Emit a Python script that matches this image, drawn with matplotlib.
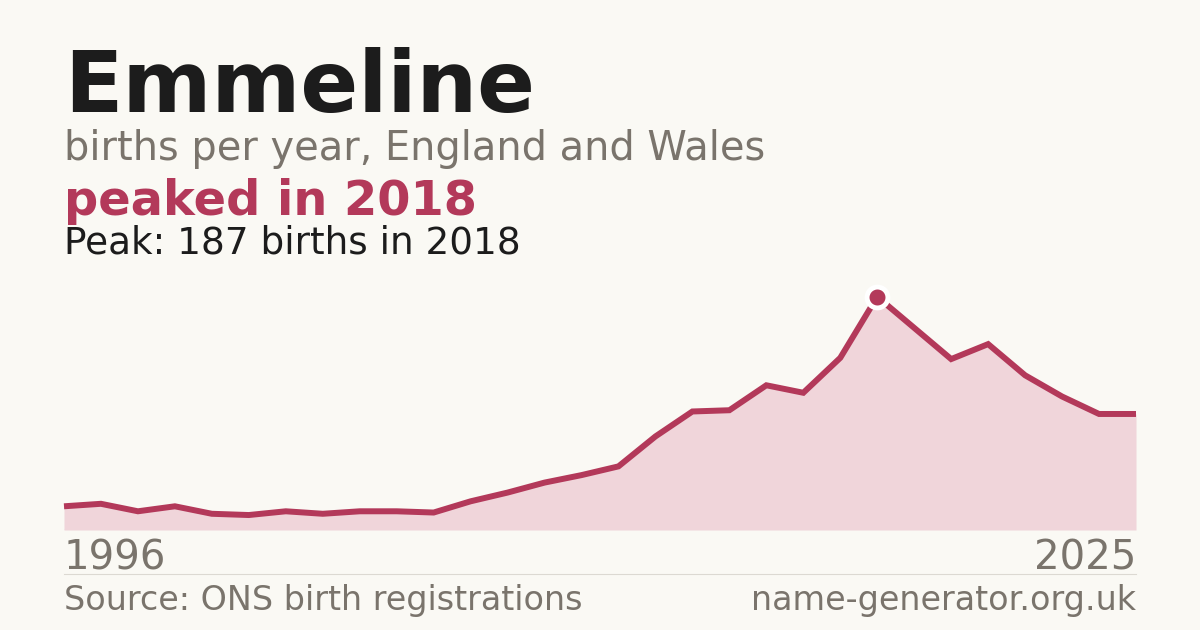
import matplotlib
matplotlib.use("Agg")
import matplotlib.pyplot as plt
from matplotlib.font_manager import FontProperties
import os
import numpy as np

years = list(range(1996, 2026))
births = [19, 21, 15, 19, 13, 12, 15, 13, 15, 15, 14, 23, 30, 38, 44, 51,
          75, 95, 96, 116, 110, 138, 187, 162, 137, 149, 124, 107, 93, 93]
peak_year = 2018
peak_value = 187

title = "Emmeline"
subtitle = "births per year, England and Wales"
headline = "peaked in 2018"
peak_text = "Peak: 187 births in 2018"
source_text = "Source: ONS birth registrations"
site_text = "name-generator.org.uk"

BG = "#faf9f4"
RED = "#b3395a"
FILL = "#f0d5da"
GREY = "#7a746c"
DARK = "#1c1c1c"
RULE = "#dcd9d2"

ttf_dir = os.path.join(matplotlib.get_data_path(), "fonts", "ttf")
REG = FontProperties(fname=os.path.join(ttf_dir, "DejaVuSans.ttf"))
BOLD = FontProperties(fname=os.path.join(ttf_dir, "DejaVuSans-Bold.ttf"))

W, H = 1200, 630
fig = plt.figure(figsize=(W / 100, H / 100), dpi=100, facecolor=BG)

def fx(px):
    return px / W

def fy(py):
    return 1 - py / H

ax_left, ax_right, ax_bottom, ax_top = 64, 1136, 530, 280
ax = fig.add_axes([fx(ax_left), fy(ax_bottom), (ax_right - ax_left) / W, (ax_bottom - ax_top) / H])
ax.set_facecolor("none")
ymax = peak_value * (ax_bottom - ax_top) / (530 - 296.7)
ax.set_xlim(years[0], years[-1])
ax.set_ylim(0, ymax)
ax.fill_between(years, births, 0, color=FILL, lw=0, zorder=1)
ax.plot(years, births, color=RED, lw=4.3, solid_joinstyle="miter", solid_capstyle="butt", zorder=2, clip_on=False)
ax.plot([peak_year], [peak_value], "o", ms=15, color=RED, mec="white", mew=3.5, zorder=3, clip_on=False)
ax.axhline(0, color=RULE, lw=1, zorder=0)
ax.axis("off")

fig.add_artist(plt.Line2D([fx(64), fx(1136)], [fy(573.5), fy(573.5)], color=RULE, lw=0.8))

def put(x, y, s, size, color, fp, ha="left"):
    p = fp.copy()
    p.set_size(size)
    fig.text(fx(x), fy(y), s, fontproperties=p, color=color, va="baseline", ha=ha)

put(64, 111.7, title, 61.5, DARK, BOLD)
put(64, 160, subtitle, 28.7, GREY, REG)
put(64, 215, headline, 34.5, RED, BOLD)
put(64, 253, peak_text, 26.9, DARK, REG)
put(64, 570, str(years[0]), 29, GREY, REG)
put(1136, 570, str(years[-1]), 29, GREY, REG, ha="right")
put(64, 610, source_text, 24, GREY, REG)
put(1136, 610, site_text, 24, GREY, REG, ha="right")

fig.savefig("out.png", dpi=100, facecolor=BG)
